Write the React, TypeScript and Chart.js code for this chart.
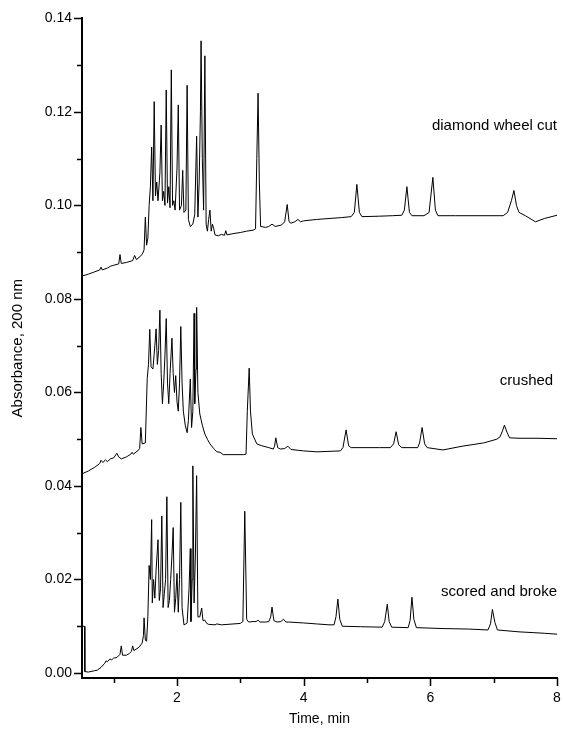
import React, { useEffect, useRef } from "react";
import { Chart, registerables } from "chart.js";

Chart.register(...registerables);

// ---- Data (time in min, absorbance at 200 nm) ----
const diamondTime = [0.50,0.60,0.70,0.78,0.80,0.82,0.90,0.95,1.00,1.08,1.10,1.12,1.20,1.30,1.33,1.36,1.45,1.48,1.50,1.52,1.54,1.56,1.58,1.60,1.62,1.64,1.66,1.68,1.70,1.73,1.75,1.77,1.79,1.81,1.83,1.85,1.87,1.89,1.91,1.93,1.95,1.97,2.00,2.02,2.04,2.07,2.09,2.11,2.14,2.16,2.18,2.21,2.25,2.28,2.31,2.33,2.35,2.37,2.38,2.40,2.42,2.44,2.46,2.48,2.50,2.52,2.54,2.56,2.58,2.60,2.65,2.70,2.75,2.77,2.79,2.90,3.00,3.10,3.20,3.24,3.26,3.28,3.30,3.32,3.40,3.45,3.50,3.55,3.65,3.70,3.74,3.77,3.80,3.86,3.91,3.95,4.00,4.20,4.40,4.60,4.75,4.80,4.84,4.88,4.92,5.20,5.40,5.55,5.59,5.63,5.67,5.71,5.90,5.98,6.04,6.08,6.12,6.40,6.80,7.15,7.22,7.28,7.32,7.36,7.40,7.50,7.66,7.80,8.00];
const diamondAbs = [0.0849,0.0853,0.0858,0.0862,0.0868,0.0862,0.0866,0.0870,0.0872,0.0875,0.0895,0.0876,0.0878,0.0882,0.0893,0.0884,0.0895,0.0905,0.0975,0.0915,0.0930,0.1000,0.1040,0.1125,0.1010,0.1222,0.1020,0.1050,0.1010,0.1070,0.1172,0.1010,0.1030,0.1000,0.1247,0.1005,0.1040,0.0995,0.1290,0.1000,0.1010,0.0990,0.1080,0.1215,0.0990,0.1000,0.1075,0.0985,0.0990,0.1257,0.0970,0.0955,0.0960,0.0980,0.1148,0.0975,0.1050,0.1200,0.1352,0.1100,0.0990,0.1320,0.0960,0.0945,0.0970,0.0990,0.0945,0.0960,0.0950,0.0937,0.0935,0.0938,0.0936,0.0946,0.0937,0.0940,0.0942,0.0945,0.0947,0.0950,0.1100,0.1240,0.1050,0.0955,0.0953,0.0955,0.0960,0.0955,0.0958,0.0965,0.1002,0.0965,0.0962,0.0965,0.0970,0.0965,0.0967,0.0970,0.0972,0.0974,0.0976,0.0985,0.1045,0.0985,0.0976,0.0977,0.0978,0.0979,0.0990,0.1040,0.0985,0.0978,0.0978,0.0985,0.1060,0.0990,0.0978,0.0978,0.0978,0.0978,0.0985,0.1010,0.1032,0.1000,0.0985,0.0978,0.0965,0.0972,0.0979];

const crushedTime = [0.50,0.60,0.70,0.78,0.80,0.83,0.87,0.90,0.95,1.00,1.05,1.08,1.12,1.20,1.27,1.29,1.31,1.38,1.41,1.43,1.45,1.50,1.53,1.55,1.57,1.59,1.62,1.65,1.67,1.69,1.71,1.73,1.75,1.77,1.79,1.81,1.83,1.85,1.87,1.89,1.92,1.94,1.96,1.98,2.00,2.02,2.04,2.06,2.08,2.10,2.13,2.16,2.18,2.21,2.23,2.25,2.27,2.28,2.30,2.31,2.33,2.36,2.40,2.44,2.48,2.52,2.58,2.63,2.68,2.73,2.90,3.05,3.09,3.11,3.14,3.16,3.19,3.26,3.34,3.45,3.52,3.54,3.56,3.59,3.63,3.70,3.75,3.80,4.00,4.21,4.40,4.58,4.62,4.67,4.71,4.75,5.00,5.20,5.37,5.42,5.46,5.50,5.55,5.80,5.83,5.87,5.91,5.95,6.20,6.50,6.84,7.05,7.10,7.14,7.17,7.21,7.25,7.40,7.70,8.00];
const crushedAbs = [0.0426,0.0432,0.0440,0.0448,0.0455,0.0450,0.0456,0.0452,0.0458,0.0460,0.0470,0.0462,0.0458,0.0462,0.0468,0.0472,0.0468,0.0475,0.0480,0.0525,0.0490,0.0492,0.0630,0.0660,0.0735,0.0655,0.0650,0.0700,0.0736,0.0660,0.0690,0.0776,0.0640,0.0576,0.0620,0.0680,0.0758,0.0620,0.0576,0.0640,0.0716,0.0640,0.0600,0.0636,0.0580,0.0560,0.0620,0.0741,0.0620,0.0560,0.0530,0.0514,0.0540,0.0629,0.0525,0.0560,0.0769,0.0576,0.0650,0.0782,0.0600,0.0554,0.0530,0.0511,0.0500,0.0490,0.0480,0.0473,0.0472,0.0467,0.0467,0.0467,0.0468,0.0560,0.0652,0.0560,0.0511,0.0490,0.0486,0.0482,0.0479,0.0485,0.0503,0.0482,0.0479,0.0480,0.0485,0.0478,0.0475,0.0473,0.0474,0.0475,0.0482,0.0520,0.0486,0.0482,0.0482,0.0482,0.0482,0.0490,0.0516,0.0488,0.0482,0.0482,0.0492,0.0525,0.0490,0.0482,0.0477,0.0485,0.0492,0.0500,0.0505,0.0518,0.0530,0.0515,0.0503,0.0502,0.0502,0.0501];

const scoredTime = [0.50,0.54,0.545,0.60,0.70,0.74,0.80,0.86,0.88,0.90,0.94,0.97,1.00,1.05,1.10,1.12,1.14,1.20,1.25,1.28,1.30,1.32,1.40,1.45,1.47,1.48,1.50,1.52,1.54,1.56,1.58,1.60,1.61,1.63,1.65,1.67,1.70,1.72,1.74,1.76,1.78,1.80,1.82,1.84,1.86,1.88,1.90,1.92,1.94,1.96,1.98,2.00,2.02,2.04,2.06,2.08,2.11,2.14,2.16,2.19,2.21,2.22,2.24,2.25,2.27,2.29,2.31,2.33,2.36,2.39,2.41,2.44,2.47,2.50,2.60,2.63,2.70,2.90,3.00,3.04,3.07,3.10,3.13,3.20,3.25,3.28,3.31,3.40,3.45,3.48,3.50,3.53,3.58,3.64,3.68,3.72,3.76,4.00,4.20,4.40,4.48,4.51,4.54,4.57,4.61,4.90,5.24,5.28,5.32,5.35,5.39,5.65,5.68,5.71,5.74,5.78,6.20,6.60,6.91,6.95,6.98,7.02,7.06,7.40,7.80,8.00];
const scoredAbs = [0.0100,0.0100,0.0003,0.0002,0.0005,0.0006,0.0012,0.0021,0.0026,0.0024,0.0030,0.0028,0.0032,0.0033,0.0040,0.0058,0.0038,0.0038,0.0042,0.0046,0.0058,0.0048,0.0055,0.0064,0.0080,0.0118,0.0070,0.0068,0.0120,0.0230,0.0200,0.0328,0.0150,0.0200,0.0160,0.0220,0.0285,0.0155,0.0180,0.0336,0.0140,0.0170,0.0200,0.0377,0.0140,0.0155,0.0200,0.0250,0.0311,0.0130,0.0160,0.0213,0.0130,0.0200,0.0365,0.0140,0.0103,0.0105,0.0107,0.0180,0.0266,0.0110,0.0200,0.0443,0.0150,0.0250,0.0422,0.0120,0.0120,0.0139,0.0112,0.0113,0.0106,0.0104,0.0103,0.0105,0.0103,0.0105,0.0106,0.0110,0.0346,0.0115,0.0109,0.0110,0.0110,0.0113,0.0109,0.0109,0.0110,0.0120,0.0141,0.0112,0.0109,0.0110,0.0115,0.0109,0.0109,0.0107,0.0105,0.0103,0.0103,0.0120,0.0158,0.0115,0.0100,0.0099,0.0098,0.0110,0.0147,0.0110,0.0098,0.0097,0.0112,0.0162,0.0115,0.0097,0.0095,0.0094,0.0092,0.0105,0.0136,0.0108,0.0092,0.0088,0.0085,0.0083];

const seriesNames = ["diamond wheel cut", "crushed", "scored and broke"];
const labelTimes = [8.0, 7.94, 8.0];
const labelAbs = [0.117, 0.0625, 0.0173];

const xTickLabels = [2, 4, 6, 8];
const xMinorTicks = [1, 3, 5, 7];
const yTickLabels = [0, 0.02, 0.04, 0.06, 0.08, 0.1, 0.12, 0.14];
const yMinorTicks = [0.01, 0.03, 0.05, 0.07, 0.09, 0.11, 0.13];

const FONT = "'Liberation Sans', Arial, sans-serif";

const toPoints = (xs: number[], ys: number[]) => xs.map((x, i) => ({ x, y: ys[i] }));

export default function App() {
  const ref = useRef<HTMLCanvasElement | null>(null);

  useEffect(() => {
    document.body.style.margin = "0";
    const canvas = ref.current;
    if (!canvas) return;

    const tickPlugin = {
      id: "tickMarks",
      afterDraw(chart: any) {
        const { ctx, chartArea, scales } = chart;
        const xs = scales.x;
        const ys = scales.y;
        ctx.save();
        ctx.strokeStyle = "#000";
        ctx.lineWidth = 1.5;
        ctx.beginPath();
        const bottom = chartArea.bottom;
        const left = chartArea.left;
        xTickLabels.forEach((v) => {
          const p = Math.round(xs.getPixelForValue(v)) + 0.5;
          ctx.moveTo(p, bottom);
          ctx.lineTo(p, bottom + 8);
        });
        xMinorTicks.forEach((v) => {
          const p = Math.round(xs.getPixelForValue(v)) + 0.5;
          ctx.moveTo(p, bottom);
          ctx.lineTo(p, bottom + 5);
        });
        yTickLabels.forEach((v) => {
          const p = Math.round(ys.getPixelForValue(v)) + 0.5;
          ctx.moveTo(left, p);
          ctx.lineTo(left - 8, p);
        });
        yMinorTicks.forEach((v) => {
          const p = Math.round(ys.getPixelForValue(v)) + 0.5;
          ctx.moveTo(left, p);
          ctx.lineTo(left - 5, p);
        });
        ctx.stroke();
        ctx.restore();
      },
      afterDatasetsDraw(chart: any) {
        const { ctx, scales } = chart;
        ctx.save();
        ctx.fillStyle = "#000";
        ctx.font = `15px ${FONT}`;
        ctx.textAlign = "right";
        ctx.textBaseline = "middle";
        seriesNames.forEach((name, i) => {
          ctx.fillText(
            name,
            scales.x.getPixelForValue(labelTimes[i]),
            scales.y.getPixelForValue(labelAbs[i])
          );
        });
        ctx.restore();
      },
    };

    const lineDs = (xs: number[], ys: number[], label: string) => ({
      label,
      data: toPoints(xs, ys),
      borderColor: "#000",
      borderWidth: 1,
      pointRadius: 0,
      tension: 0,
      fill: false,
    });

    const chart = new Chart(canvas, {
      type: "line",
      data: {
        datasets: [
          lineDs(diamondTime, diamondAbs, seriesNames[0]),
          lineDs(crushedTime, crushedAbs, seriesNames[1]),
          lineDs(scoredTime, scoredAbs, seriesNames[2]),
        ],
      },
      options: {
        responsive: false,
        animation: false,
        devicePixelRatio: 1,
        layout: { padding: { left: 0, right: 6, top: 17, bottom: 0 } },
        plugins: { legend: { display: false }, tooltip: { enabled: false } },
        scales: {
          x: {
            type: "linear",
            min: 0.5,
            max: 8,
            afterBuildTicks: (s: any) => {
              s.ticks = xTickLabels.map((v) => ({ value: v }));
            },
            afterFit: (s: any) => {
              s.height = 52;
              s.paddingRight = 0;
            },
            grid: { display: false, drawTicks: false, tickLength: 0 },
            border: { display: true, color: "#000", width: 2 },
            ticks: {
              color: "#000",
              font: { family: FONT, size: 14 },
              padding: 12,
              maxRotation: 0,
              callback: (v: any) => String(v),
            },
            title: {
              display: true,
              text: "Time, min",
              color: "#000",
              font: { family: FONT, size: 14 },
              padding: { top: 0, bottom: 2 },
            },
          },
          y: {
            type: "linear",
            min: -0.00107,
            max: 0.14,
            afterBuildTicks: (s: any) => {
              s.ticks = yTickLabels.map((v) => ({ value: v }));
            },
            afterFit: (s: any) => {
              s.width = 82;
            },
            grid: { display: false, drawTicks: false, tickLength: 0 },
            border: { display: true, color: "#000", width: 2 },
            ticks: {
              color: "#000",
              font: { family: FONT, size: 14 },
              padding: 10,
              callback: (v: any) => Number(v).toFixed(2),
            },
            title: {
              display: true,
              text: "Absorbance, 200 nm",
              color: "#000",
              font: { family: FONT, size: 15 },
              padding: { top: 9, bottom: 0 },
            },
          },
        },
      },
      plugins: [tickPlugin],
    } as any);

    return () => chart.destroy();
  }, []);

  return (
    <div style={{ width: 563, height: 730 }}>
      <canvas ref={ref} width={563} height={730} style={{ display: "block" }} />
    </div>
  );
}
